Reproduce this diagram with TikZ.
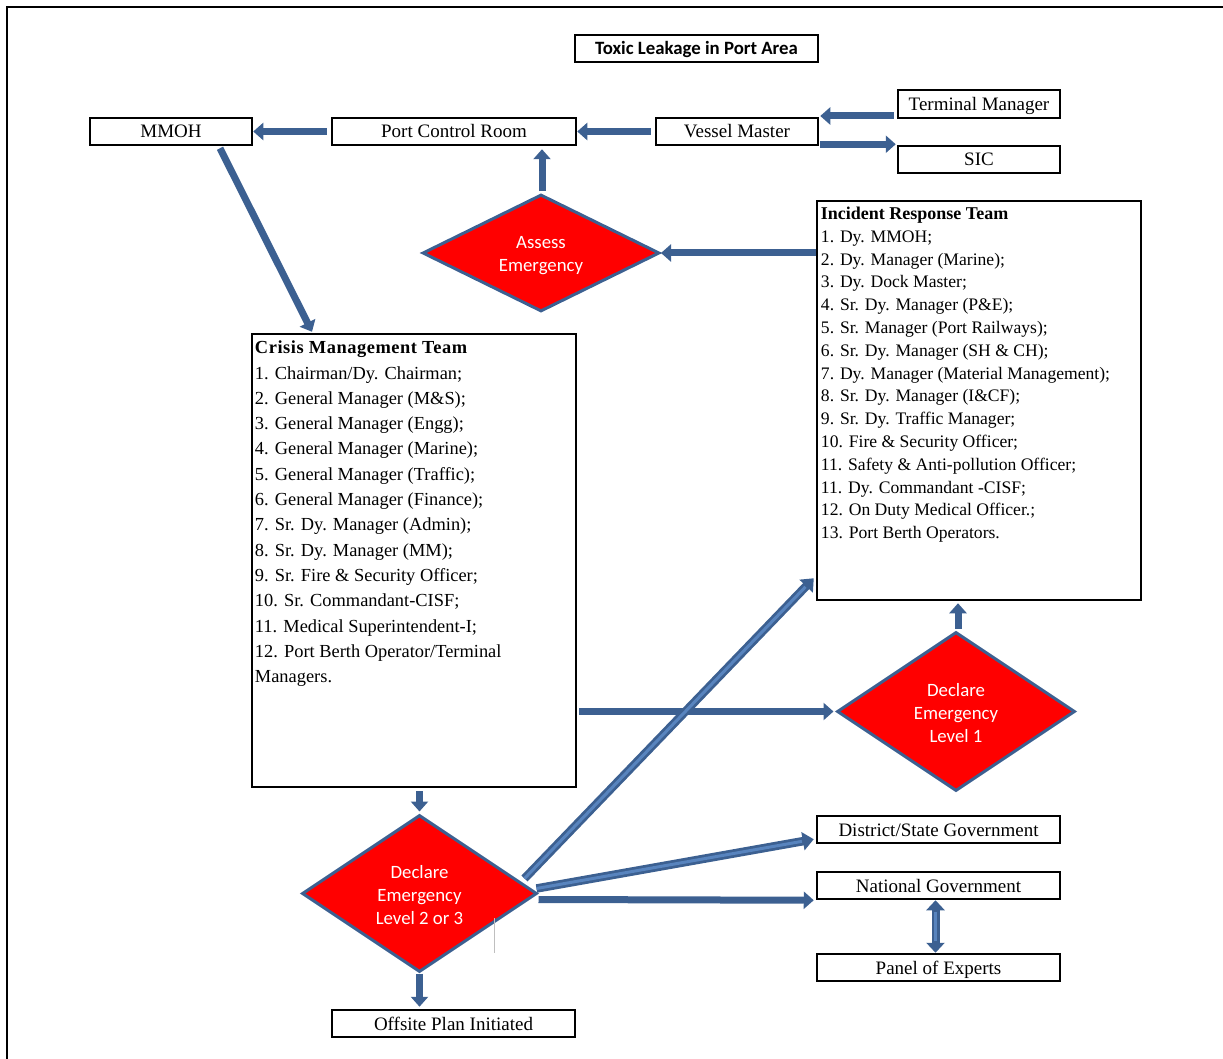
\documentclass[tikz,border=0pt]{standalone}
\usepackage{fontspec}
\setmainfont{Liberation Serif}
\newfontfamily\calfont{Carlito}
\usetikzlibrary{shapes.geometric,arrows.meta,calc}
\definecolor{flowblue}{RGB}{60,96,145}
\definecolor{flowlight}{RGB}{88,132,190}
\begin{document}
\begin{tikzpicture}[x=1pt,y=-1pt,
  box/.style={draw=black, line width=2.5pt, rectangle, inner sep=0pt,
    text height=15.5pt, text depth=2.5pt,
    minimum width=162pt, minimum height=27pt, font=\fontsize{19}{22}\selectfont},
  listbox/.style={draw=black, line width=2.5pt, rectangle, inner sep=0pt},
  listtext/.style={anchor=north west, inner sep=0pt, align=left},
  decision/.style={diamond, draw=flowblue, fill=red, line width=3pt, inner sep=0pt},
  dtext/.style={align=center, text=white, yshift=-2pt, font=\calfont\fontsize{18.8}{23}\selectfont},
  flow/.style={draw=flowblue, line width=7pt, -{Triangle[length=10pt,width=17pt]}},
  hollow/.style={draw=flowblue, line width=8.5pt, -{Triangle[length=11pt,width=18pt]},
    postaction={draw=flowlight, line width=3pt, -, shorten >=12pt}},
  hollowboth/.style={draw=flowblue, line width=8pt,
    {Triangle[length=10pt,width=18pt]}-{Triangle[length=10pt,width=18pt]},
    postaction={draw=flowlight, line width=3pt, -, shorten >=12pt, shorten <=12pt}}]
\useasboundingbox (0,0) rectangle (1223,1059);

% frame
\draw[line width=2.5pt] (7,1059) -- (7,7) -- (1223,7);

% title and top row
\node[box, minimum width=243pt, font=\calfont\bfseries\fontsize{18.8}{22}\selectfont] (title) at (696.5,48.5) {Toxic Leakage in Port Area};
\node[box] (mmoh) at (171,131.5) {MMOH};
\node[box, minimum width=244pt] (pcr) at (454,131.5) {Port Control Room};
\node[box] (vessel) at (737,131.5) {Vessel Master};
\node[box, minimum height=28pt] (term) at (979,104) {Terminal Manager};
\node[box] (sic) at (979,159.5) {SIC};

% decisions
\node[decision, minimum width=237pt, minimum height=117pt,
  label={[dtext, yshift=-1pt]center:{Assess\\Emergency}}] (assess) at (541,253) {};
\node[decision, minimum width=238pt, minimum height=159pt,
  label={[dtext]center:{Declare\\Emergency\\Level 1}}] (lvl1) at (956,711.5) {};
\node[decision, minimum width=235pt, minimum height=157pt,
  label={[dtext]center:{Declare\\Emergency\\Level 2 or 3}}] (lvl2) at (419.5,893.5) {};

% team lists
\node[listbox, minimum width=324pt, minimum height=399pt] (irt) at (979,400.5) {};
\node[listtext, font=\fontsize{17.6}{22.8}\selectfont] (irtlist) at ([xshift=5pt,yshift=-7pt]irt.north west) {%
{\fontsize{18}{22.8}\selectfont\textbf{Incident Response Team}}\\
1. Dy. MMOH;\\
2. Dy. Manager (Marine);\\
3. Dy. Dock Master;\\
4. Sr. Dy. Manager (P\&E);\\
5. Sr. Manager (Port Railways);\\
6. Sr. Dy. Manager (SH \& CH);\\
7. Dy. Manager (Material Management);\\
8. Sr. Dy. Manager (I\&CF);\\
9. Sr. Dy. Traffic Manager;\\
10. Fire \& Security Officer;\\
11. Safety \& Anti-pollution Officer;\\
11. Dy. Commandant -CISF;\\
12. On Duty Medical Officer.;\\
13. Port Berth Operators.};

\node[listbox, minimum width=324pt, minimum height=453pt] (crisis) at (414,560.5) {};
\node[listtext, font=\fontsize{18.4}{25.3}\selectfont] (crisislist) at ([xshift=4pt,yshift=-8pt]crisis.north west) {%
{\addfontfeature{LetterSpace=3}\textbf{Crisis Management Team}}\\
1. Chairman/Dy. Chairman;\\
2. General Manager (M\&S);\\
3. General Manager (Engg);\\
4. General Manager (Marine);\\
5. General Manager (Traffic);\\
6. General Manager (Finance);\\
7. Sr. Dy. Manager (Admin);\\
8. Sr. Dy. Manager (MM);\\
9. Sr. Fire \& Security Officer;\\
10. Sr. Commandant-CISF;\\
11. Medical Superintendent-I;\\
12. Port Berth Operator/Terminal\\
Managers.};

% outside agencies
\node[box, minimum width=243pt] (district) at (938.5,829.5) {District/State Government};
\node[box, minimum width=243pt] (national) at (938.5,885.5) {National Government};
\node[box, minimum width=243pt] (panel) at (938.5,967.5) {Panel of Experts};
\node[box, minimum width=243pt] (offsite) at (453.5,1023.5) {Offsite Plan Initiated};

% connectors
\coordinate (tmout) at ([yshift=-12pt]term.west);
\coordinate (sicin) at ([yshift=0.5pt]sic.north west);
\draw[flow, shorten <=4pt] (pcr.west) -- (mmoh.east);
\draw[flow, shorten <=4pt] (vessel.west) -- (pcr.east);
\draw[flow, shorten <=3pt, shorten >=1pt] (tmout) -- (tmout -| vessel.east);
\draw[flow, shorten <=1pt, shorten >=1pt] (sicin -| vessel.east) -- (sicin);
\draw[flow, shorten <=2pt, shorten >=3pt] ([xshift=1pt]assess.north) -- ([xshift=1pt]assess.north |- pcr.south);
\draw[flow] (irt.west |- assess.east) -- (assess.east);
\draw[flow] ([xshift=49pt,yshift=-2pt]mmoh.south) -- ([xshift=-102pt,yshift=1pt]crisis.north);
\draw[flow, shorten <=2pt, shorten >=2pt] (crisis.east |- lvl1.west) -- (lvl1.west);
\draw[flow, shorten <=2pt, shorten >=2pt] ([xshift=2pt]lvl1.north) -- ([xshift=2pt]lvl1.north |- irt.south);
\draw[flow, shorten <=3pt, shorten >=2pt] (crisis.south -| lvl2.north) -- (lvl2.north);
\draw[hollow] ([xshift=-14pt,yshift=15pt]lvl2.east) -- ([xshift=-2pt,yshift=23pt]irt.south west);
\draw[hollow] ([xshift=-2pt,yshift=5pt]lvl2.east) -- ([xshift=-2pt,yshift=5pt]district.south west);
\draw[flow, shorten >=2pt] ([yshift=-6pt]lvl2.east) -- (national.south west);
\draw[hollowboth] ([xshift=-3pt]national.south) -- ([xshift=-3pt]panel.north);
\draw[flow, shorten >=2pt] (lvl2.south) -- (lvl2.south |- offsite.north);

% stray rule below the level 2/3 decision
\draw[black!25, line width=0.8pt] (494,918) -- (494,953);
\end{tikzpicture}
\end{document}
